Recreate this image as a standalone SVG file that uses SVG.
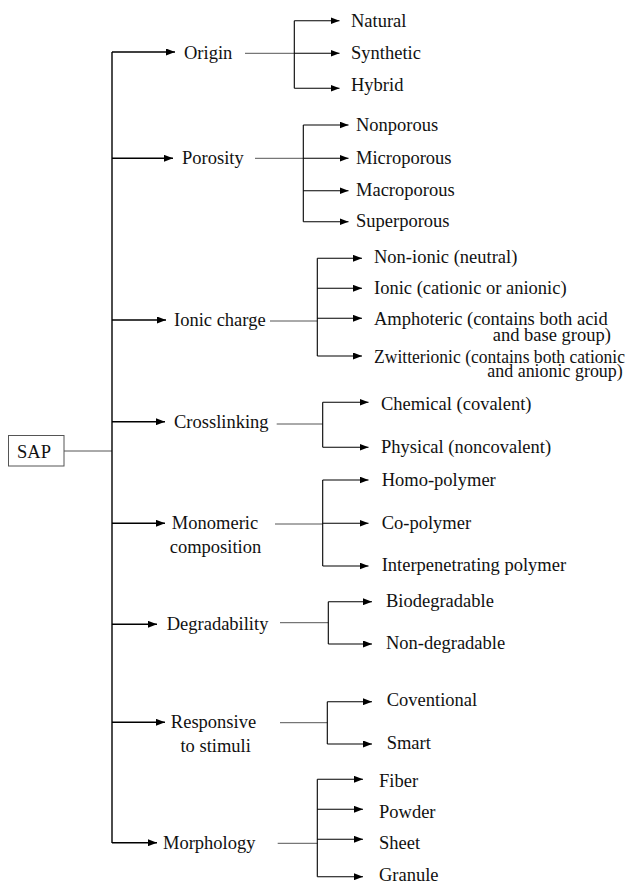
<svg xmlns="http://www.w3.org/2000/svg" width="628" height="883" viewBox="0 0 628 883">
<style>
text{font-family:"Liberation Serif","Times New Roman",serif;font-size:18.5px;fill:#111}
.main{stroke:#000;stroke-width:1.4;fill:none}
.br{stroke:#000;stroke-width:1.1;fill:none}
.thin{stroke:#555;stroke-width:1;fill:none}
.arr{marker-end:url(#ah)}
</style>
<defs>
<marker id="ah" markerUnits="userSpaceOnUse" markerWidth="9" markerHeight="7" refX="9" refY="3.5" orient="auto">
<path d="M0,0 L9,3.5 L0,7 z" fill="#000"/>
</marker>
</defs>
<rect width="628" height="883" fill="#fff"/>
<g id="connectors">
<line class="thin" x1="64" y1="451" x2="112" y2="451"/>
<line class="main" x1="112" y1="52" x2="112" y2="843"/>
<path class="main arr" d="M112,52 H175"/>
<path class="main arr" d="M112,158.3 H173"/>
<path class="main arr" d="M112,320 H166"/>
<path class="main arr" d="M112,421.7 H165"/>
<path class="main arr" d="M112,523.3 H165"/>
<path class="main arr" d="M112,624.3 H157"/>
<path class="main arr" d="M112,722.3 H165"/>
<path class="main arr" d="M112,842.7 H157"/>
<line class="thin" x1="245" y1="53.3" x2="294.3" y2="53.3"/>
<line class="br" x1="294.3" y1="20.7" x2="294.3" y2="88.3"/>
<path class="br arr" d="M294.3,20.7 H339.5"/>
<path class="br arr" d="M294.3,53.3 H339.5"/>
<path class="br arr" d="M294.3,88.3 H339.5"/>
<line class="thin" x1="255" y1="158.3" x2="303.3" y2="158.3"/>
<line class="br" x1="303.3" y1="125" x2="303.3" y2="221.7"/>
<path class="br arr" d="M303.3,125 H348.5"/>
<path class="br arr" d="M303.3,158.3 H348.5"/>
<path class="br arr" d="M303.3,190.7 H348.5"/>
<path class="br arr" d="M303.3,221.7 H348.5"/>
<line class="thin" x1="270" y1="321" x2="317.3" y2="321"/>
<line class="br" x1="317.3" y1="258.3" x2="317.3" y2="356"/>
<path class="br arr" d="M317.3,258.3 H362"/>
<path class="br arr" d="M317.3,288.3 H362"/>
<path class="br arr" d="M317.3,318.3 H362"/>
<path class="br arr" d="M317.3,356 H362"/>
<line class="thin" x1="276.7" y1="424" x2="322.7" y2="424"/>
<line class="br" x1="322.7" y1="402.3" x2="322.7" y2="447.3"/>
<path class="br arr" d="M322.7,402.3 H368.5"/>
<path class="br arr" d="M322.7,447.3 H368.5"/>
<line class="thin" x1="275" y1="524" x2="322.7" y2="524"/>
<line class="br" x1="322.7" y1="480" x2="322.7" y2="566"/>
<path class="br arr" d="M322.7,480 H368.5"/>
<path class="br arr" d="M322.7,523.3 H368.5"/>
<path class="br arr" d="M322.7,566 H368.5"/>
<line class="thin" x1="280" y1="622.7" x2="328.3" y2="622.7"/>
<line class="br" x1="328.3" y1="601.7" x2="328.3" y2="644"/>
<path class="br arr" d="M328.3,601.7 H372"/>
<path class="br arr" d="M328.3,644 H372"/>
<line class="thin" x1="280" y1="722.7" x2="327.3" y2="722.7"/>
<line class="br" x1="327.3" y1="701.7" x2="327.3" y2="744"/>
<path class="br arr" d="M327.3,701.7 H372"/>
<path class="br arr" d="M327.3,744 H372"/>
<line class="thin" x1="277.7" y1="843.3" x2="317.3" y2="843.3"/>
<line class="br" x1="317.3" y1="779.3" x2="317.3" y2="876.7"/>
<path class="br arr" d="M317.3,779.3 H363"/>
<path class="br arr" d="M317.3,809.3 H363"/>
<path class="br arr" d="M317.3,839.3 H363"/>
<path class="br arr" d="M317.3,876.7 H363"/>
</g>
<g id="sap"><rect x="8.5" y="435.5" width="55.5" height="30.5" fill="#fff" stroke="#555" stroke-width="1"/><text x="17" y="458">SAP</text></g>
<g id="origin"><text x="184" y="59">Origin</text></g>
<g id="natural"><text x="351" y="26.7">Natural</text></g>
<g id="synthetic"><text x="351" y="59.3">Synthetic</text></g>
<g id="hybrid"><text x="351" y="90.7">Hybrid</text></g>
<g id="porosity"><text x="182" y="163.5">Porosity</text></g>
<g id="nonporous"><text x="356" y="130.5">Nonporous</text></g>
<g id="microporous"><text x="356" y="163.5">Microporous</text></g>
<g id="macroporous"><text x="356" y="195.5">Macroporous</text></g>
<g id="superporous"><text x="356" y="226.8">Superporous</text></g>
<g id="ionic-charge"><text x="174" y="326">Ionic charge</text></g>
<g id="non-ionic"><text x="374" y="263">Non-ionic (neutral)</text></g>
<g id="ionic"><text x="374" y="293.5">Ionic (cationic or anionic)</text></g>
<g id="amphoteric"><text x="374" y="325">Amphoteric (contains both acid</text><text x="492.7" y="340.5">and base group)</text></g>
<g id="zwitterionic"><text x="374" y="362.7" textLength="251" lengthAdjust="spacingAndGlyphs">Zwitterionic (contains both cationic</text><text x="487.3" y="377" textLength="135.5" lengthAdjust="spacingAndGlyphs">and anionic group)</text></g>
<g id="crosslinking"><text x="174" y="427.5">Crosslinking</text></g>
<g id="chemical"><text x="381" y="410">Chemical (covalent)</text></g>
<g id="physical"><text x="381" y="453.3">Physical (noncovalent)</text></g>
<g id="monomeric"><text x="215" y="529" text-anchor="middle">Monomeric</text><text x="215.5" y="552.5" text-anchor="middle">composition</text></g>
<g id="homo"><text x="381.7" y="486">Homo-polymer</text></g>
<g id="co"><text x="381.7" y="528.5">Co-polymer</text></g>
<g id="interpenetrating"><text x="381.7" y="571">Interpenetrating polymer</text></g>
<g id="degradability"><text x="166.7" y="630">Degradability</text></g>
<g id="biodegradable"><text x="386" y="607">Biodegradable</text></g>
<g id="non-degradable"><text x="386" y="648.5">Non-degradable</text></g>
<g id="responsive"><text x="213.5" y="728" text-anchor="middle">Responsive</text><text x="215.7" y="751.7" text-anchor="middle">to stimuli</text></g>
<g id="conventional"><text x="386.7" y="706">Coventional</text></g>
<g id="smart"><text x="386.7" y="749">Smart</text></g>
<g id="morphology"><text x="163" y="848.5">Morphology</text></g>
<g id="fiber"><text x="379" y="786.7">Fiber</text></g>
<g id="powder"><text x="379" y="818.3">Powder</text></g>
<g id="sheet"><text x="379" y="849.3">Sheet</text></g>
<g id="granule"><text x="379" y="880.5">Granule</text></g>
</svg>
